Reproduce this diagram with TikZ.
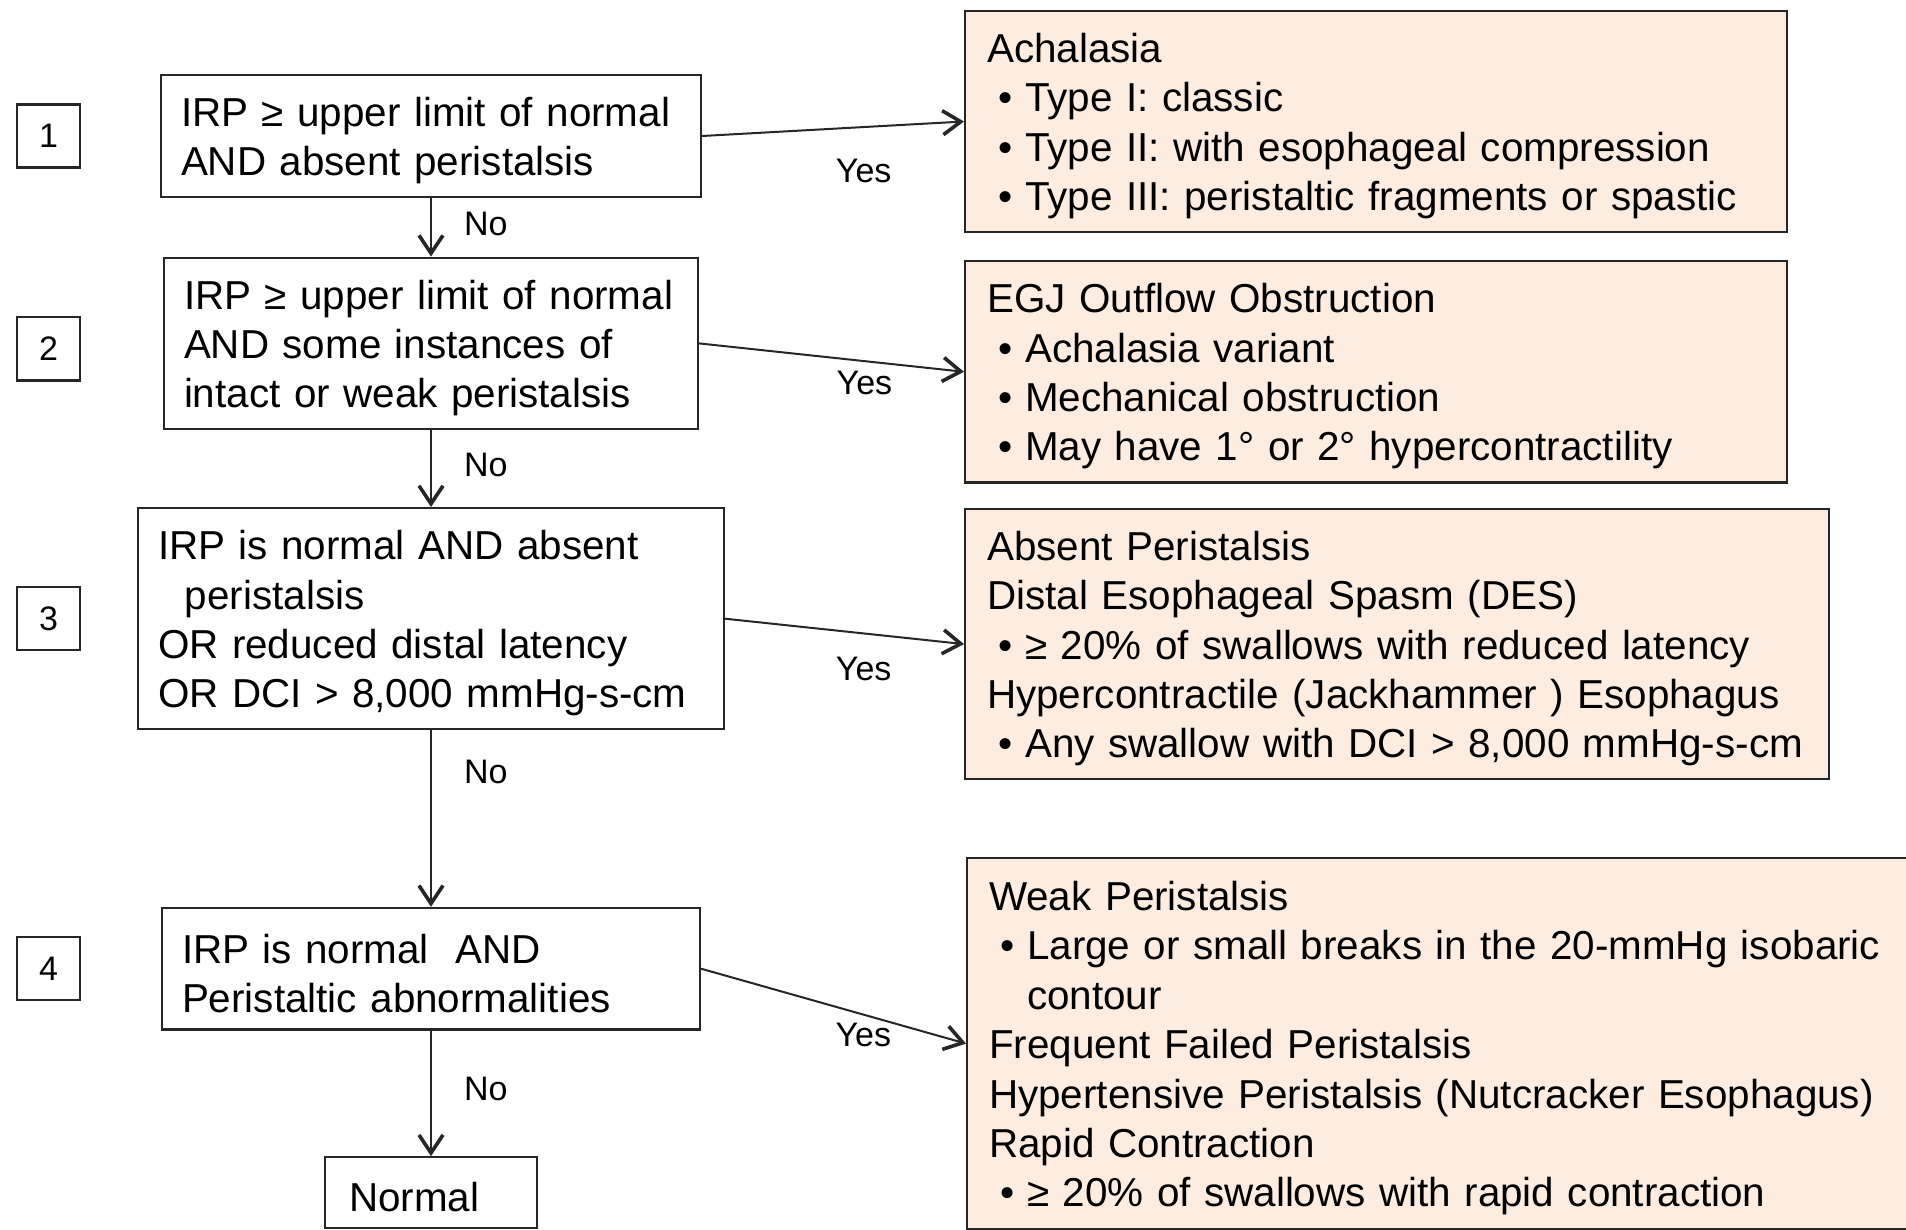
\documentclass[tikz,border=0pt]{standalone}
\usepackage{fontspec}
\setmainfont{Liberation Sans}
\usepackage{tikz}
\usetikzlibrary{arrows.meta, positioning}
\definecolor{peach}{RGB}{253,237,224}
\newcommand{\bul}{\makebox[19pt][l]{\hspace{5.5pt}•}}

\begin{document}
\begin{tikzpicture}[        font=\fontsize{20.2}{24.7}\selectfont,        >={Straight Barb[length=9pt,width=12pt,line width=1.8pt]},        test/.style={rectangle, draw=black!85, line width=1.1pt, fill=white, align=left, inner xsep=10pt, inner ysep=0pt, execute at begin node={\hyphenpenalty=10000\exhyphenpenalty=10000\rule{0pt}{19.2pt}}},        result/.style={rectangle, draw=black!85, line width=1.1pt, fill=peach, align=left, inner xsep=11pt, inner ysep=0pt, anchor=north west, execute at begin node={\hyphenpenalty=10000\exhyphenpenalty=10000\rule{0pt}{19.2pt}}},        stepnum/.style={rectangle, draw=black!85, line width=1.1pt, minimum size=31.5pt, inner sep=0pt, font=\fontsize{17}{20}\selectfont},        lbl/.style={inner sep=0pt, font=\fontsize{17}{20}\selectfont},        flow/.style={->, line width=1pt, draw=black!85}    ]
        \useasboundingbox (0,0) rectangle (953pt,-615pt);

        \node (q1) [test, text width=250pt, minimum height=60.75pt] at (215.5pt,-68pt) {IRP ≥ upper limit of normal\\AND absent peristalsis};
        \node (q2) [test, text width=247pt, minimum height=85.7pt, below of=q1, node distance=103.7pt] {IRP ≥ upper limit of normal\\AND some instances of\\intact or weak peristalsis};
        \node (q3) [test, text width=273pt, minimum height=110.6pt, below of=q2, node distance=137.65pt] {IRP is normal AND absent\\\hspace*{13.4pt}peristalsis\\OR reduced distal latency\\OR DCI > 8,000 mmHg-s-cm};
        \node (q4) [test, text width=249pt, minimum height=60.8pt, below of=q3, node distance=175pt] {IRP is normal~~AND\\Peristaltic abnormalities};
        \node (normal) [test, text width=82pt, inner xsep=12pt, minimum height=35.25pt, below of=q4, node distance=111.9pt] {Normal};

        \node (n1) [stepnum, left of=q1, node distance=191.2pt] {1};
        \node (n2) [stepnum, left of=q2, node distance=191.2pt, yshift=-2.75pt] {2};
        \node (n3) [stepnum, left of=q3, node distance=191.2pt] {3};
        \node (n4) [stepnum, left of=q4, node distance=191.2pt] {4};

        \node (r1) [result, text width=389pt, minimum height=110.7pt] at (482pt,-4.85pt) {Achalasia\\\bul Type I: classic\\\bul Type II: with esophageal compression\\\bul Type III: peristaltic fragments or spastic};
        \node (r2) [result, text width=389pt, minimum height=110.7pt] at (482pt,-130pt) {EGJ Outflow Obstruction\\\bul Achalasia variant\\\bul Mechanical obstruction\\\bul May have 1° or 2° hypercontractility};
        \node (r3) [result, text width=410pt, minimum height=135pt] at (482pt,-254pt) {Absent Peristalsis\\Distal Esophageal Spasm (DES)\\\bul ≥ 20\% of swallows with reduced latency\\Hypercontractile (Jackhammer ) Esophagus\\\bul Any swallow with DCI > 8,000 mmHg-s-cm};
        \node (r4) [result, text width=453pt, minimum height=185.5pt] at (483pt,-428.5pt) {Weak Peristalsis\\\bul Large or small breaks in the 20-mmHg isobaric\\\hspace*{19pt}contour\\Frequent Failed Peristalsis\\Hypertensive Peristalsis (Nutcracker Esophagus)\\Rapid Contraction\\\bul ≥ 20\% of swallows with rapid contraction};

        \draw [flow] (q1) -- (q2) node [lbl, pos=0.44, right=16pt] {No};
        \draw [flow] (q2) -- (q3) node [lbl, pos=0.447, right=16pt] {No};
        \draw [flow] (q3) -- (q4) node [lbl, pos=0.238, right=16pt] {No};
        \draw [flow] (q4) -- (normal) node [lbl, pos=0.467, right=16pt] {No};

        \draw [flow] (q1.east) -- (r1.west) node [lbl, pos=0.617, yshift=-22pt] {Yes};
        \draw [flow] (q2.east) -- (r2.west) node [lbl, pos=0.624, yshift=-10.7pt] {Yes};
        \draw [flow] (q3.east) -- (r3.west) node [lbl, pos=0.58, yshift=-17.9pt] {Yes};
        \draw [flow] (q4.east) -- (r4.west) node [lbl, pos=0.6125, yshift=-10.3pt] {Yes};
    \end{tikzpicture}
\end{document}
